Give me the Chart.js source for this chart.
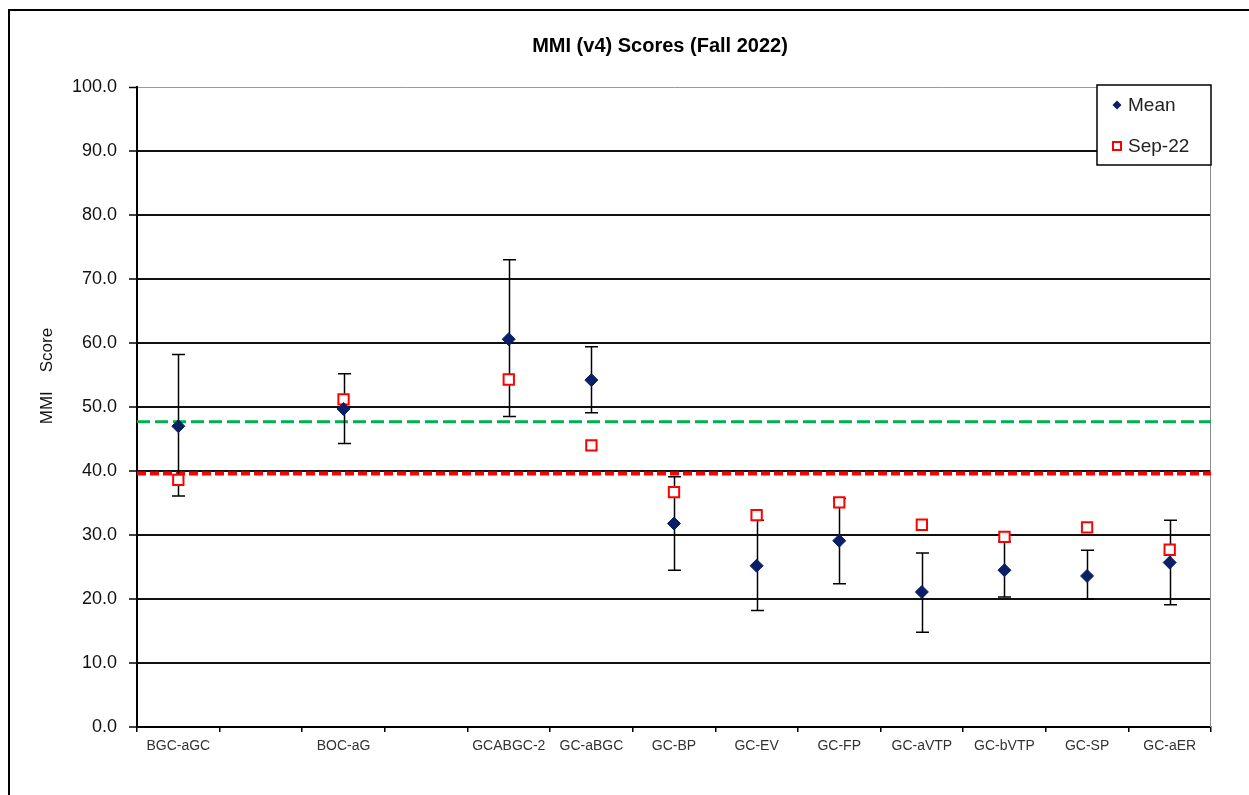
<!DOCTYPE html>
<html><head><meta charset="utf-8">
<script src="https://cdn.jsdelivr.net/npm/chart.js@4.4.0/dist/chart.umd.min.js"></script>
<style>
html,body{margin:0;padding:0;background:#fff;overflow:hidden;width:1249px;height:795px}
#frame{position:absolute;left:8px;top:9px;width:2000px;height:2000px;border-left:2px solid #000;border-top:2px solid #000}
canvas{position:absolute;left:0;top:0}
</style></head><body>
<div id="frame"></div>
<canvas id="c" width="1249" height="795"></canvas>
<script>
// ---- data ----
const categories = ['BGC-aGC', '', 'BOC-aG', '', 'GCABGC-2', 'GC-aBGC', 'GC-BP', 'GC-EV', 'GC-FP', 'GC-aVTP', 'GC-bVTP', 'GC-SP', 'GC-aER'];
const meanScores  = [47.0, null, 49.7, null, 60.6, 54.2, 31.8, 25.2, 29.1, 21.1, 24.5, 23.6, 25.7];
const sep22Scores = [38.6, null, 51.2, null, 54.3, 44.0, 36.7, 33.1, 35.1, 31.6, 29.7, 31.2, 27.7];
const errorHigh   = [58.2, null, 55.2, null, 73.0, 59.4, 39.1, 32.3, 35.7, 27.2, 29.0, 27.6, 32.3];
const errorLow    = [36.1, null, 44.3, null, 48.5, 49.1, 24.5, 18.2, 22.4, 14.8, 20.3, 20.0, 19.1];
const greenThreshold = 47.7;
const redThreshold = 39.6;
const yTickLabels = ['0.0', '10.0', '20.0', '30.0', '40.0', '50.0', '60.0', '70.0', '80.0', '90.0', '100.0'];
const chartTitle = 'MMI (v4) Scores (Fall 2022)';
const yAxisTitle = 'MMI    Score';

// ---- styling ----
const FONT = "'Liberation Sans', Arial, sans-serif";
const NAVY = '#0a1f66';
const RED = '#ff0000';
const GREEN = '#00b050';

const decorPlugin = {
  id: 'decor',
  afterLayout(chart) {
    // original chart frame extends beyond the cropped right edge; centre title on it
    chart.titleBlock.right += 99;
  },
  beforeDatasetsDraw(chart) {
    const {ctx, chartArea: a, scales: {x, y}} = chart;
    ctx.save();
    // right plot border
    ctx.strokeStyle = '#8c8c8c'; ctx.lineWidth = 1;
    ctx.beginPath(); ctx.moveTo(a.right - 0.5, a.top); ctx.lineTo(a.right - 0.5, a.bottom); ctx.stroke();
    // threshold lines
    ctx.lineWidth = 3; ctx.strokeStyle = GREEN; ctx.setLineDash([13, 5]);
    let gy = y.getPixelForValue(greenThreshold);
    ctx.beginPath(); ctx.moveTo(a.left, gy); ctx.lineTo(a.right, gy); ctx.stroke();
    ctx.lineWidth = 4; ctx.strokeStyle = RED; ctx.setLineDash([9, 4]);
    let ry = y.getPixelForValue(redThreshold);
    ctx.beginPath(); ctx.moveTo(a.left, ry); ctx.lineTo(a.right, ry); ctx.stroke();
    ctx.setLineDash([]);
    // error bars
    ctx.strokeStyle = '#000'; ctx.lineWidth = 1.5;
    categories.forEach((c, i) => {
      if (errorHigh[i] == null || errorLow[i] == null) return;
      const px = Math.round(x.getPixelForValue(i)) + 0.5;
      const yt = y.getPixelForValue(errorHigh[i]);
      const yb = y.getPixelForValue(errorLow[i]);
      ctx.beginPath();
      ctx.moveTo(px, yt); ctx.lineTo(px, yb);
      ctx.moveTo(px - 6.5, yt); ctx.lineTo(px + 6.5, yt);
      ctx.moveTo(px - 6.5, yb); ctx.lineTo(px + 6.5, yb);
      ctx.stroke();
    });
    ctx.restore();
  },
  afterDraw(chart) {
    const {ctx, chartArea: a} = chart;
    ctx.save();
    // y axis title
    ctx.translate(chart.scales.y.left + 37, a.top + a.height * 0.4516);
    ctx.rotate(-Math.PI / 2);
    ctx.fillStyle = '#111';
    ctx.font = '17px ' + FONT;
    ctx.textAlign = 'center'; ctx.textBaseline = 'middle';
    ctx.fillText(yAxisTitle, 0, 0);
    ctx.restore();
    // legend box inside plot area
    ctx.save();
    const lw = 114, lh = 80, lx = a.right - lw, ly = a.top - 2;
    ctx.fillStyle = '#fff'; ctx.fillRect(lx, ly, lw, lh);
    ctx.strokeStyle = '#000'; ctx.lineWidth = 1.5; ctx.strokeRect(lx, ly, lw, lh);
    const ds = chart.data.datasets;
    ctx.font = '19px ' + FONT; ctx.textBaseline = 'middle'; ctx.textAlign = 'left';
    // Mean
    let mx = lx + 20, my = ly + 20;
    ctx.fillStyle = NAVY;
    ctx.beginPath(); ctx.moveTo(mx - 4.5, my); ctx.lineTo(mx, my - 4.5); ctx.lineTo(mx + 4.5, my); ctx.lineTo(mx, my + 4.5); ctx.closePath(); ctx.fill();
    ctx.fillStyle = '#222'; ctx.fillText(ds[0].label, lx + 31, my + 1);
    // Sep-22
    my = ly + 61;
    ctx.strokeStyle = RED; ctx.lineWidth = 2; ctx.fillStyle = '#fff';
    ctx.fillRect(mx - 4, my - 4, 8, 8); ctx.strokeRect(mx - 4, my - 4, 8, 8);
    ctx.fillStyle = '#222'; ctx.fillText(ds[1].label, lx + 31, my + 1);
    ctx.restore();
  }
};

new Chart(document.getElementById('c'), {
  type: 'line',
  data: {
    labels: categories,
    datasets: [
      {
        label: 'Mean', data: meanScores, showLine: false,
        pointStyle: 'rectRot', pointRadius: 6.5, pointHoverRadius: 6.5,
        backgroundColor: NAVY, borderColor: NAVY, pointBorderWidth: 1
      },
      {
        label: 'Sep-22', data: sep22Scores, showLine: false,
        pointStyle: 'rect', pointRadius: 7.3, pointHoverRadius: 7.3,
        backgroundColor: '#fff', borderColor: RED, pointBorderWidth: 2
      }
    ]
  },
  options: {
    responsive: false, animation: false, devicePixelRatio: 1,
    layout: {padding: {left: 10, right: 38, top: 10, bottom: 0}},
    plugins: {
      legend: {display: false},
      tooltip: {enabled: false},
      title: {
        display: true, text: chartTitle, color: '#000',
        font: {family: FONT, size: 20, weight: 'bold'},
        padding: {top: 24, bottom: 29}
      }
    },
    scales: {
      x: {
        offset: true,
        afterFit(s) { s.height = 68; },
        grid: {offset: true, drawOnChartArea: false, drawTicks: true, tickLength: 5, color: '#000', lineWidth: 1.5},
        border: {display: true, color: '#000', width: 2},
        ticks: {autoSkip: false, maxRotation: 0, minRotation: 0, padding: 6, color: '#333', font: {family: FONT, size: 14}}
      },
      y: {
        min: 0, max: 100,
        afterFit(s) { s.width = 127; },
        grid: {
          color: (c) => (c.tick && c.tick.value === 100 ? '#9a9a9a' : '#111'),
          lineWidth: (c) => (c.tick && c.tick.value === 100 ? 1 : 2),
          tickColor: '#000', tickLength: 8, tickWidth: 1.5
        },
        border: {display: true, color: '#000', width: 2},
        ticks: {
          stepSize: 10, padding: 12, color: '#111',
          font: {family: FONT, size: 18},
          callback: (v) => yTickLabels[Math.round(v / 10)]
        }
      }
    }
  },
  plugins: [decorPlugin]
});
</script>
</body></html>
